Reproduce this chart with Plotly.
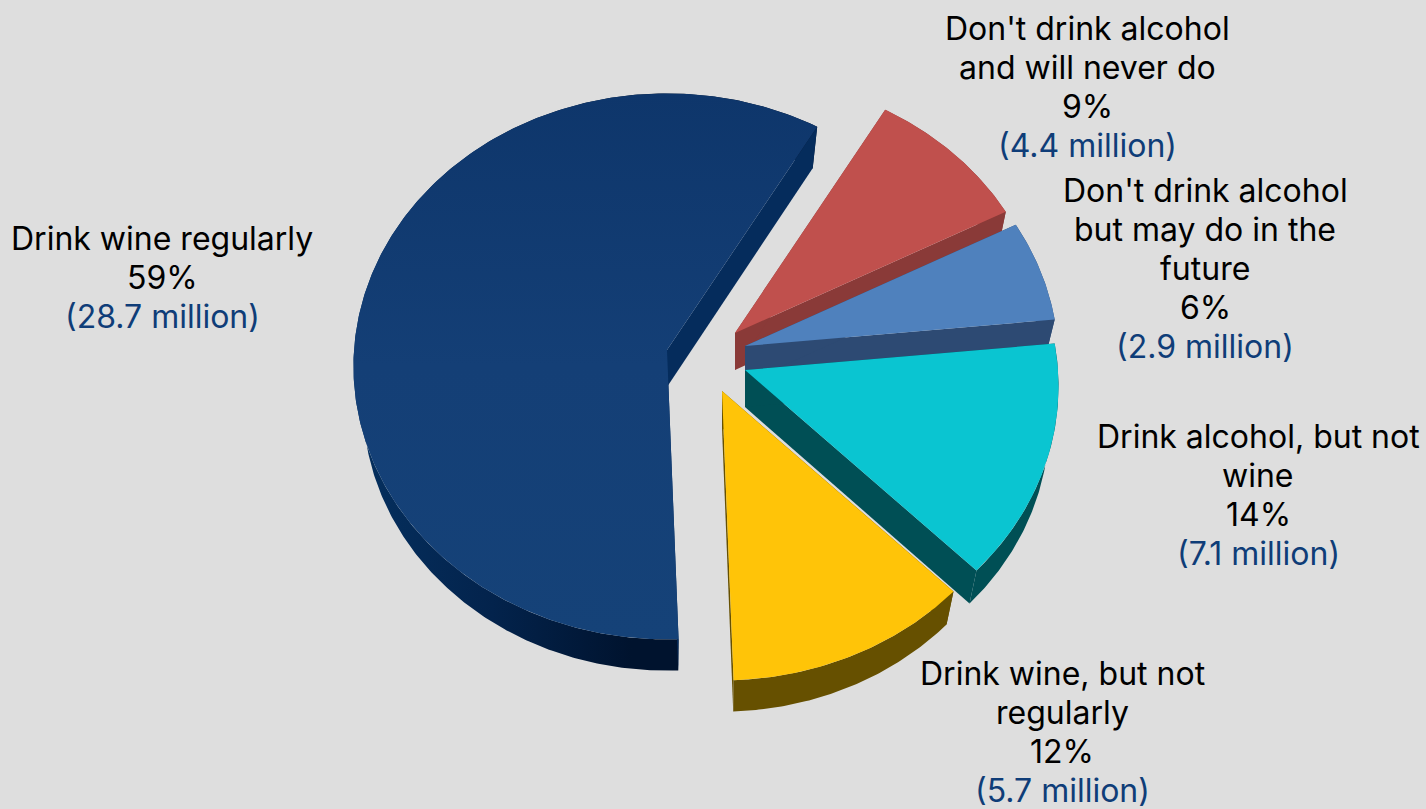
import numpy as np
import plotly.graph_objects as go

# Survey breakdown
categories = [
    "Drink wine regularly",
    "Don't drink alcohol<br>and will never do",
    "Don't drink alcohol<br>but may do in the<br>future",
    "Drink alcohol, but not<br>wine",
    "Drink wine, but not<br>regularly",
]
shares = [59, 9, 6, 14, 12]
millions = [28.7, 4.4, 2.9, 7.1, 5.7]

# Slice styling
top_colors = ["#123D74", "#C0504D", "#4F81BD", "#0AC5D1", "#FFC408"]
rim_colors = ["#021A3C", "#8A3A38", "#2D4A73", "#004F55", "#665000"]
cut_colors = ["#052C5C", "#8A3A38", "#2D4A73", "#004F55", "#665000"]
value_color = "#0F3D78"
text_color = "#000000"
background = "#DEDEDE"

# Exploded position of each slice tip on the page
tips = [(667, 350), (735, 333), (745, 346), (745, 370), (722, 391)]

# Label placement: centre x, centre y of the first line of each block
label_spots = [(162, 238), (1087, 28), (1205, 190), (1258, 436), (1062, 673)]
LINE_PITCH = 39

# Tilted-disc projection
RX, RY = 313, 273
PERSPECTIVE = 0.06
DEPTH = 37
LOWER_X, LOWER_Y = 0.97, 0.98
START_ANGLE = 178


def project(theta_deg, tip, lower=False):
    t = np.radians(theta_deg)
    u, v = np.sin(t), np.cos(t)
    k = 1 - PERSPECTIVE * v
    x, y = RX * u * k, -RY * v * k
    if lower:
        return tip[0] + x * LOWER_X, tip[1] + y * LOWER_Y + DEPTH
    return tip[0] + x, tip[1] + y


def polygon(xs, ys, color, gradient=None):
    trace = go.Scatter(
        x=list(xs), y=list(ys), mode="lines", fill="toself",
        line=dict(width=0), hoverinfo="skip", showlegend=False,
        fillcolor=color,
    )
    if gradient:
        trace.fillgradient = gradient
    return trace


fig = go.Figure()
angle = START_ANGLE
for i, share in enumerate(shares):
    sweep = share * 3.6
    thetas = np.linspace(angle, angle + sweep, max(int(sweep * 2), 8))
    tip = tips[i]
    ux, uy = project(thetas, tip)
    lx, ly = project(thetas, tip, lower=True)
    low_tip = (tip[0], tip[1] + DEPTH)

    # outer rim
    rim_gradient = None
    if i == 0:
        rim_gradient = dict(
            type="horizontal",
            colorscale=[[0, "#05305F"], [0.3, "#03234C"], [0.6, "#00132E"], [1, "#00132E"]],
        )
    fig.add_trace(polygon(
        np.r_[ux, lx[::-1]], np.r_[uy, ly[::-1]], rim_colors[i], rim_gradient,
    ))

    # cut faces on both straight edges of the slice
    for end in (-1, 0):
        fig.add_trace(polygon(
            [tip[0], ux[end], lx[end], low_tip[0]],
            [tip[1], uy[end], ly[end], low_tip[1]],
            cut_colors[i],
        ))

    # top surface
    top_gradient = None
    if i == 0:
        top_gradient = dict(
            type="vertical",
            colorscale=[[0, "#154278"], [0.5, "#143F76"], [1, "#0E366B"]],
        )
    fig.add_trace(polygon(
        np.r_[tip[0], ux, tip[0]], np.r_[tip[1], uy, tip[1]], top_colors[i], top_gradient,
    ))
    angle += sweep

for name, share, amount, (lx, ly) in zip(categories, shares, millions, label_spots):
    lines = name.split("<br>") + [f"{share}%"]
    for n, line in enumerate(lines):
        fig.add_annotation(
            x=lx, y=ly + n * LINE_PITCH, xref="x", yref="y", showarrow=False,
            xanchor="center", yanchor="middle", align="center", text=line,
            font=dict(family="Inter", size=32, color=text_color),
        )
    fig.add_annotation(
        x=lx, y=ly + len(lines) * LINE_PITCH, xref="x", yref="y", showarrow=False,
        xanchor="center", yanchor="middle", align="center",
        text=f"({amount} million)",
        font=dict(family="Inter", size=32, color=value_color),
    )

fig.update_layout(
    width=1426, height=809,
    margin=dict(l=0, r=0, t=0, b=0),
    paper_bgcolor=background, plot_bgcolor=background,
    showlegend=False,
    xaxis=dict(range=[0, 1426], visible=False, fixedrange=True),
    yaxis=dict(range=[809, 0], visible=False, fixedrange=True),
)

fig.write_html("out.html")
